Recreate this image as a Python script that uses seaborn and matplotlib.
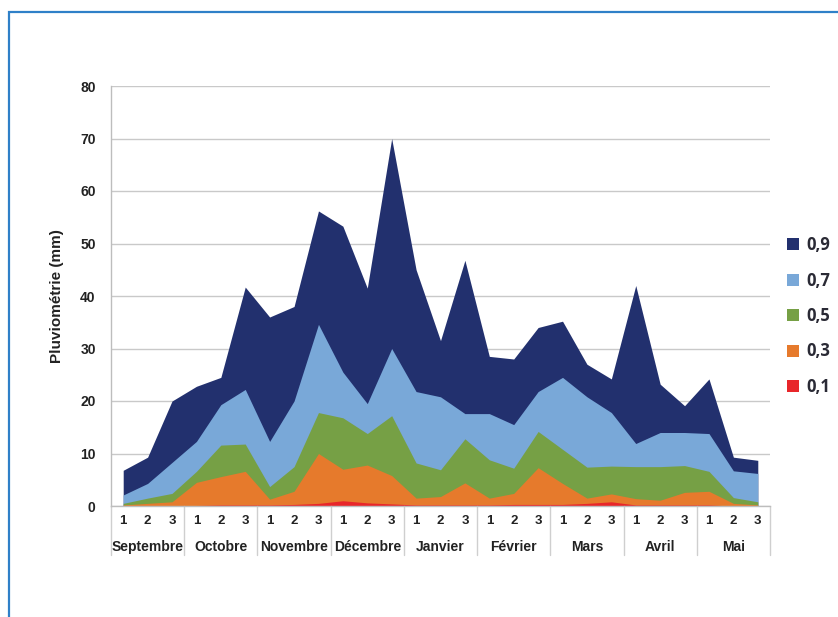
import matplotlib
matplotlib.use("Agg")
import matplotlib.pyplot as plt
import matplotlib.transforms as mtransforms
from matplotlib.patches import Patch, Rectangle
import seaborn as sns
import pandas as pd

# decades (1, 2, 3) of each month, Sept -> May
months = ["Septembre", "Octobre", "Novembre", "Décembre", "Janvier",
          "Février", "Mars", "Avril", "Mai"]
decades = ["1", "2", "3"]

# rainfall (mm) per quantile, one value per decade
q09 = [6.8, 9.3, 20.0, 22.8, 24.5, 41.7, 36.0, 38.0, 56.2, 53.3, 41.5, 70.0, 45.0, 31.5,
       46.8, 28.5, 28.0, 34.0, 35.2, 27.0, 24.2, 42.0, 23.2, 19.1, 24.2, 9.3, 8.7]
q07 = [2.1, 4.3, 8.3, 12.3, 19.3, 22.2, 12.3, 20.0, 34.6, 25.5, 19.5, 30.0, 21.8, 20.8,
       17.6, 17.6, 15.5, 21.8, 24.5, 20.8, 17.8, 11.9, 14.0, 14.0, 13.8, 6.7, 6.2]
q05 = [0.5, 1.5, 2.4, 6.6, 11.6, 11.8, 3.7, 7.5, 17.8, 16.8, 13.8, 17.2, 8.2, 6.9,
       12.8, 8.8, 7.2, 14.2, 10.8, 7.4, 7.6, 7.5, 7.5, 7.7, 6.6, 1.6, 0.8]
q03 = [0.2, 0.5, 0.8, 4.5, 5.6, 6.6, 1.3, 2.8, 10.0, 7.0, 7.8, 5.8, 1.5, 1.8,
       4.4, 1.5, 2.4, 7.3, 4.3, 1.5, 2.3, 1.4, 1.1, 2.6, 2.8, 0.5, 0.2]
q01 = [0.0, 0.0, 0.0, 0.1, 0.2, 0.2, 0.2, 0.3, 0.5, 1.0, 0.6, 0.4, 0.2, 0.2,
       0.2, 0.2, 0.3, 0.3, 0.3, 0.5, 0.8, 0.2, 0.2, 0.2, 0.2, 0.0, 0.0]

labels = ["0,9", "0,7", "0,5", "0,3", "0,1"]
colors = ["#22306e", "#79a8d8", "#76a045", "#e67a2c", "#e8262a"]

df = pd.DataFrame({"0,9": q09, "0,7": q07, "0,5": q05, "0,3": q03, "0,1": q01})
df["x"] = range(len(df))

sns.set_theme(style="white")
plt.rcParams["font.family"] = ["Liberation Sans", "DejaVu Sans"]

fig = plt.figure(figsize=(8.38, 6.17), dpi=100)
ax = fig.add_axes([111 / 838, 1 - 506 / 617, 659 / 838, 420 / 617])

# overlapping (not stacked) areas, largest quantile first
for lab, col in zip(labels, colors):
    ax.fill_between(df["x"], 0, df[lab], color=col, lw=0, zorder=2)

ax.set_xlim(-0.5, len(df) - 0.5)
ax.set_ylim(0, 80)
ax.set_yticks(range(0, 81, 10))
ax.yaxis.grid(True, color="#c9c9c9", lw=1, zorder=0)
ax.set_axisbelow(True)
ax.tick_params(axis="y", length=0, pad=11, labelsize=10, labelcolor="#222222")
for t in ax.get_yticklabels():
    t.set_fontweight("bold")
ax.set_xticks([])
sns.despine(ax=ax, top=True, right=True)
for s in ("left", "bottom"):
    ax.spines[s].set_color("#bdbdbd")
    ax.spines[s].set_linewidth(1)
ax.set_ylabel("Pluviométrie (mm)", fontsize=11, fontweight="bold", labelpad=12, color="#222222")

# category table under the x axis
trans = mtransforms.blended_transform_factory(ax.transData, ax.transAxes)
for i in range(len(df)):
    ax.text(i, -0.036, decades[i % 3], transform=trans, ha="center", va="center",
            fontsize=9.5, fontweight="bold", color="#222222")
for m, name in enumerate(months):
    ax.text(m * 3 + 1, -0.098, name, transform=trans, ha="center", va="center",
            fontsize=10, fontweight="bold", color="#222222")
for b in range(len(months) + 1):
    ax.plot([b * 3 - 0.5, b * 3 - 0.5], [0, -0.117], transform=trans,
            color="#cfcfcf", lw=1, clip_on=False)

handles = [Patch(facecolor=c, edgecolor="none") for c in colors]
leg = fig.legend(handles, labels, loc="upper left",
                 bbox_to_anchor=(787 / 838, 1 - 236 / 617), frameon=False,
                 prop={"family": ["Open Sans", "DejaVu Sans"], "weight": "bold", "size": 12},
                 handlelength=0.7, handleheight=0.7, handletextpad=0.45,
                 labelspacing=1.05, borderpad=0, borderaxespad=0)
for t in leg.get_texts():
    t.set_color("#2a2a35")

# blue frame around the figure
fig.patches.append(Rectangle((8.5 / 838, -0.1), 1.2, 1 - 12 / 617 + 0.1,
                             transform=fig.transFigure, fill=False,
                             edgecolor="#2f80c8", lw=1.6))

fig.savefig("out.png", dpi=100)
